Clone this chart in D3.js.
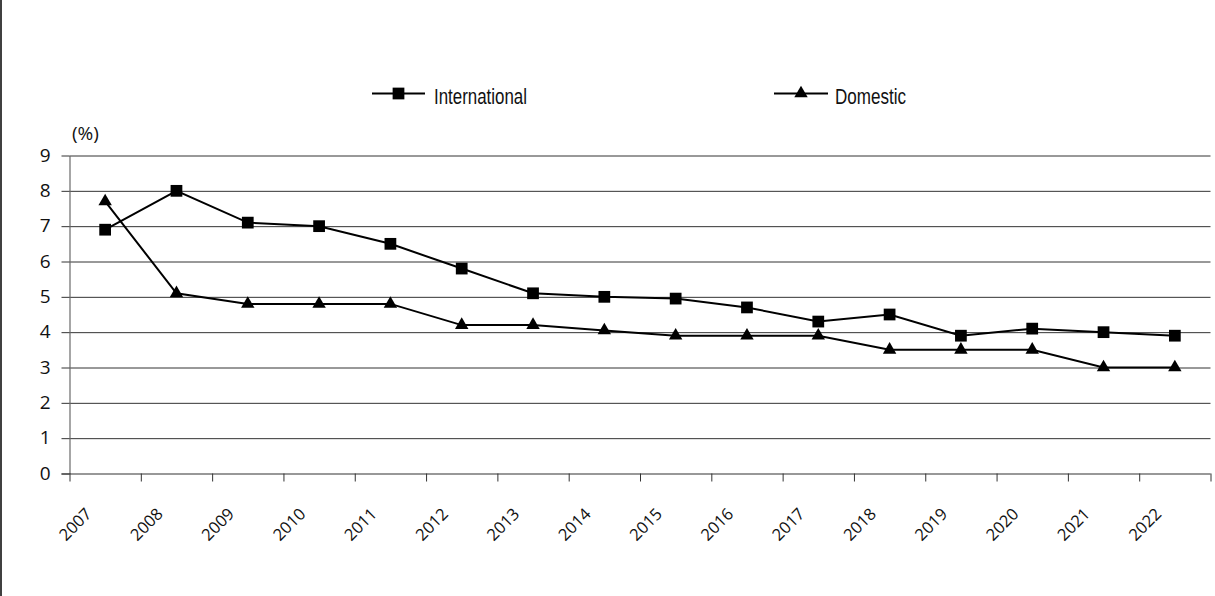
<!DOCTYPE html>
<html>
<head>
<meta charset="utf-8">
<script src="https://cdn.jsdelivr.net/npm/d3@7"></script>
<style>
  html, body { margin: 0; padding: 0; background: #fff; }
  svg { display: block; }
</style>
</head>
<body>
<svg id="chart" width="1215" height="596"></svg>
<script>
const categories = ['2007','2008','2009','2010','2011','2012','2013','2014','2015','2016','2017','2018','2019','2020','2021','2022'];
const international = [6.9, 8.0, 7.1, 7.0, 6.5, 5.8, 5.1, 5.0, 4.95, 4.7, 4.3, 4.5, 3.9, 4.1, 4.0, 3.9];
const domestic = [7.7, 5.1, 4.8, 4.8, 4.8, 4.2, 4.2, 4.05, 3.9, 3.9, 3.9, 3.5, 3.5, 3.5, 3.0, 3.0];
const yTicks = [0, 1, 2, 3, 4, 5, 6, 7, 8, 9];
const seriesNames = ['International', 'Domestic'];
const yUnit = '(%)';

(function () {
const svg = d3.select('#chart');
const pL = 69.5, pR = 1210.5, pT = 155.5, pB = 473.5;

const x = d3.scaleBand().domain(categories).range([pL, pR]).padding(0);
const xb = d3.scaleLinear().domain([0, categories.length]).range([pL, pR]);
const y = d3.scaleLinear().domain([0, 9]).range([pB, pT]);

// left frame border
svg.append('line').attr('x1', 1).attr('x2', 1).attr('y1', 0).attr('y2', 596)
  .attr('stroke', '#000').attr('stroke-width', 1.5);

// gridlines
const grid = svg.append('g').attr('transform', `translate(${pL},0)`)
  .call(d3.axisLeft(y).tickValues(yTicks.slice(1)).tickSize(-(pR - pL)).tickFormat(''));
grid.select('.domain').remove();
grid.selectAll('line').attr('stroke', '#333').attr('stroke-width', 1);

// y axis
const yAxis = svg.append('g').attr('transform', `translate(${pL},0)`)
  .call(d3.axisLeft(y).tickValues(yTicks).tickSize(8).tickSizeOuter(0).tickPadding(11));
yAxis.select('.domain').attr('stroke', '#6a6a6a').attr('stroke-width', 1.2);
yAxis.selectAll('line').attr('stroke', '#333');
yAxis.selectAll('text')
  .attr('font-family', '"Open Sans", "Noto Sans", sans-serif')
  .attr('font-size', 19).attr('fill', '#111').attr('dy', '0.3em');

// x axis
const xAxis = svg.append('g').attr('transform', `translate(0,${pB})`)
  .call(d3.axisBottom(xb).tickValues(d3.range(categories.length + 1)).tickSize(8).tickSizeOuter(0).tickFormat(''));
xAxis.select('.domain').attr('stroke', '#333').attr('stroke-width', 1.2)
  .attr('d', `M${pL - 8},0.5H${pR}`);
xAxis.selectAll('line').attr('stroke', '#333');

svg.append('g').selectAll('text').data(categories).join('text')
  .attr('transform', d => `translate(${x(d) + x.bandwidth() / 2 - 12.5},515) rotate(-45)`)
  .attr('text-anchor', 'end')
  .attr('font-family', '"Open Sans", "Noto Sans", sans-serif')
  .attr('font-size', 16.5).attr('fill', '#111')
  .text(d => d);

// unit label
svg.append('text').attr('x', 72).attr('y', 140)
  .attr('font-family', '"Open Sans", "Noto Sans", sans-serif')
  .attr('font-size', 19).attr('fill', '#111').text(yUnit);

// series
const line = d3.line().x((d, i) => x(categories[i]) + x.bandwidth() / 2).y(d => y(d));
const seriesData = [international, domestic];
const symbols = [d3.symbol(d3.symbolSquare, 138), d3.symbol(d3.symbolTriangle, 78)];

seriesData.forEach((vals, si) => {
  svg.append('path').datum(vals).attr('d', line)
    .attr('fill', 'none').attr('stroke', '#000').attr('stroke-width', 2);
  svg.append('g').selectAll('path').data(vals).join('path')
    .attr('d', symbols[si])
    .attr('transform', (d, i) => `translate(${x(categories[i]) + x.bandwidth() / 2},${y(d)})`)
    .attr('fill', '#000');
});

// legend (condensed face emulated by compressing the regular face)
const legendItems = [
  { name: seriesNames[0], x1: 372, x2: 425, tx: 434, tl: 93 },
  { name: seriesNames[1], x1: 774, x2: 828, tx: 835, tl: 71 }
];
const lg = svg.append('g');
legendItems.forEach((it, si) => {
  lg.append('line').attr('x1', it.x1).attr('x2', it.x2).attr('y1', 93.5).attr('y2', 93.5)
    .attr('stroke', '#000').attr('stroke-width', 2);
  lg.append('path').attr('d', symbols[si])
    .attr('transform', `translate(${(it.x1 + it.x2) / 2},93.5)`).attr('fill', '#000');
  lg.append('text').attr('x', it.tx).attr('y', 104)
    .attr('font-family', '"Liberation Sans Narrow", "Liberation Sans", Arial, sans-serif')
    .attr('font-size', 22).attr('fill', '#111')
    .attr('textLength', it.tl).attr('lengthAdjust', 'spacingAndGlyphs')
    .text(it.name);
});
})();
</script>
</body>
</html>
